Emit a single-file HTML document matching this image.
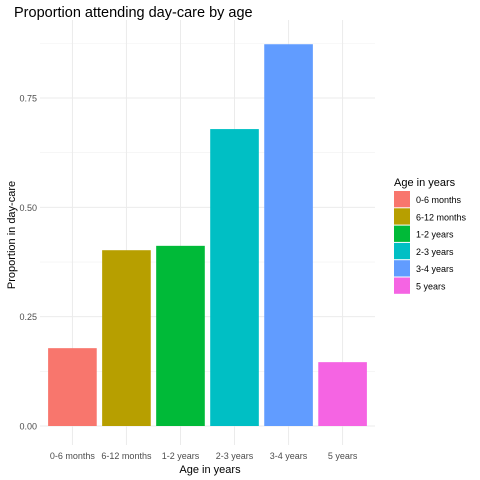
<!DOCTYPE html>
<html><head><meta charset="utf-8"><style>
body{margin:0;background:#fff;}
svg{display:block;font-family:"Liberation Sans",Arial,sans-serif;}
</style></head><body>
<svg id="chart" width="480" height="480" viewBox="0 0 480 480">
<text x="14" y="17" font-size="14.5" fill="#000">Proportion attending day-care by age</text>
<g id="grid"></g>
<g id="bars"></g>
<g id="axes"></g>
<text x="210" y="473" font-size="11" text-anchor="middle" fill="#000">Age in years</text>
<text transform="translate(15,235) rotate(-90)" font-size="11" text-anchor="middle" fill="#000">Proportion in day-care</text>
<g id="legend">
<text x="394" y="186" font-size="11" fill="#000">Age in years</text>
</g>
</svg>
<script>
const categories=["0-6 months","6-12 months","1-2 years","2-3 years","3-4 years","5 years"];
const values=[0.178,0.402,0.412,0.679,0.873,0.146];
const colors=["#F8766D","#B79F00","#00BA38","#00BFC4","#619CFF","#F564E3"];
const yTicks=[0,0.25,0.5,0.75];
const yTickLabels=["0.00","0.25","0.50","0.75"];
const NS="http://www.w3.org/2000/svg";
const pL=40,pR=375,pT=20,pB=445;
const y0=426,yScale=437.3;
const y=v=>y0-v*yScale;
const step=(pR-pL)/(categories.length+0.2);
const x=i=>pL+step*(0.6+i);
const bw=step*0.9;
function mk(t,a,p){const e=document.createElementNS(NS,t);for(const k in a)e.setAttribute(k,a[k]);p.appendChild(e);return e;}
const grid=document.getElementById('grid'),bars=document.getElementById('bars'),axes=document.getElementById('axes'),legend=document.getElementById('legend');
for(let i=0;i<yTicks.length;i++){const v=yTicks[i]+0.125;if(y(v)>pT){const l=mk('line',{x1:pL,x2:pR,y1:y(v),y2:y(v),stroke:'#f0f0f0','stroke-width':0.6},grid);

}}
yTicks.forEach((v,i)=>{const l=mk('line',{x1:pL,x2:pR,y1:y(v),y2:y(v),stroke:'#ebebeb','stroke-width':1},grid);


const t=mk('text',{x:pL-3,y:y(v)+3.5,'font-size':9,'text-anchor':'end',fill:'#4d4d4d'},axes);t.textContent=yTickLabels[i];

});
categories.forEach((c,i)=>{const l=mk('line',{x1:x(i),x2:x(i),y1:pT,y2:pB,stroke:'#ebebeb','stroke-width':1},grid);


const r=mk('rect',{x:x(i)-bw/2,y:y(values[i]),width:bw,height:y0-y(values[i]),fill:colors[i]},bars);


const t=mk('text',{x:x(i),y:459,'font-size':9,'text-anchor':'middle',fill:'#4d4d4d'},axes);t.textContent=c;


const k=mk('rect',{x:394,y:191+i*17.3,width:16,height:16.3,fill:colors[i]},legend);


const lt=mk('text',{x:416,y:203+i*17.3,'font-size':9,fill:'#000'},legend);lt.textContent=c;

});
</script>
</body></html>
